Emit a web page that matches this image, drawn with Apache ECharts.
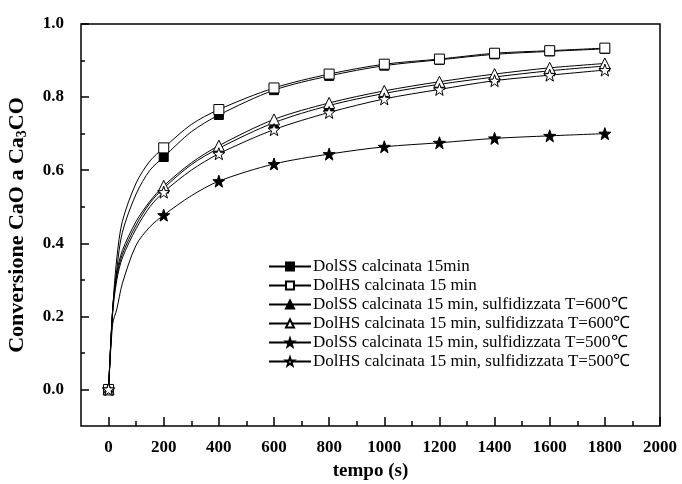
<!DOCTYPE html>
<html>
<head>
<meta charset="utf-8">
<script src="https://cdn.jsdelivr.net/npm/echarts@6/dist/echarts.min.js"></script>
<style>
html,body{margin:0;padding:0;background:#fff;}
#main{width:682px;height:484px;}
</style>
</head>
<body>
<div id="main"></div>
<script>
//tempo (s)
var tempo = [0, 15, 30, 50, 100, 150, 200, 300, 400, 600, 800, 1000, 1200, 1400, 1600, 1800];
//tempi con simbolo
var tempoMarker = [0, 200, 400, 600, 800, 1000, 1200, 1400, 1600, 1800];
//conversione
var dolSS15 = [0, 0.22, 0.33, 0.43, 0.535, 0.600, 0.636, 0.705, 0.751, 0.819, 0.858, 0.886, 0.902, 0.917, 0.925, 0.932];
var dolHS15 = [0, 0.22, 0.36, 0.46, 0.565, 0.625, 0.661, 0.725, 0.766, 0.825, 0.863, 0.890, 0.904, 0.920, 0.927, 0.934];
var dolSS600 = [0, 0.22, 0.31, 0.37, 0.450, 0.510, 0.551, 0.615, 0.660, 0.730, 0.777, 0.810, 0.835, 0.855, 0.872, 0.885];
var dolHS600 = [0, 0.22, 0.32, 0.38, 0.460, 0.515, 0.557, 0.620, 0.667, 0.739, 0.784, 0.817, 0.842, 0.863, 0.880, 0.892];
var dolSS500 = [0, 0.18, 0.22, 0.29, 0.395, 0.445, 0.477, 0.530, 0.570, 0.617, 0.644, 0.664, 0.675, 0.687, 0.694, 0.700];
var dolHS500 = [0, 0.21, 0.30, 0.36, 0.440, 0.500, 0.540, 0.600, 0.645, 0.711, 0.758, 0.795, 0.821, 0.845, 0.860, 0.874];
var nomi = ['DolSS calcinata 15min', 'DolHS calcinata 15 min',
	'DolSS calcinata 15 min, sulfidizzata T=600℃', 'DolHS calcinata 15 min, sulfidizzata T=600℃',
	'DolSS calcinata 15 min, sulfidizzata T=500℃', 'DolHS calcinata 15 min, sulfidizzata T=500℃'];
var xMajor = [0, 200, 400, 600, 800, 1000, 1200, 1400, 1600, 1800, 2000];
var xMinor = [100, 300, 500, 700, 900, 1100, 1300, 1500, 1700, 1900];
var yMajor = [0, 0.2, 0.4, 0.6, 0.8, 1.0];
var yMinor = [0.1, 0.3, 0.5, 0.7, 0.9];

var stella = 'path://M50 0 L61.76 33.82 L97.55 34.55 L69.02 56.18 L79.39 90.45 L50 70 L20.61 90.45 L30.98 56.18 L2.45 34.55 L38.24 33.82 Z';
var serif = 'Liberation Serif';

function punti(vals) {
	return tempo.map(function (t, i) {
		if (tempoMarker.indexOf(t) >= 0) return [t, vals[i]];
		return { value: [t, vals[i]], symbol: 'none' };
	});
}
function serie(nome, vals, simbolo, size, pieno) {
	return {
		name: nome,
		type: 'line',
		smooth: 0.3,
		symbol: simbolo,
		symbolSize: size,
		lineStyle: { color: '#000', width: 1 },
		itemStyle: { color: pieno ? '#000' : '#fff', borderColor: '#000', borderWidth: 1 },
		data: punti(vals)
	};
}

var chart = echarts.init(document.getElementById('main'));
var option = {
	backgroundColor: '#fff',
	animation: false,
	grid: {
		left: 81, right: 22, top: 24, bottom: 58,
		outerBoundsMode: 'none', containLabel: false,
		show: true, borderColor: '#000', borderWidth: 1.5, backgroundColor: 'transparent'
	},
	legend: {
		orient: 'vertical',
		left: 268, top: 258, padding: 0,
		itemWidth: 42, itemHeight: 10, itemGap: 2,
		textStyle: { fontFamily: serif, fontSize: 17, color: '#000', lineHeight: 17, padding: [0, 0, 0, -3] },
		data: nomi
	},
	xAxis: [{
		type: 'value', min: -100, max: 2000,
		name: 'tempo (s)', nameLocation: 'middle', nameGap: 36,
		nameTextStyle: { fontFamily: serif, fontWeight: 'bold', fontSize: 19, color: '#000' },
		axisLine: { show: false, onZero: false },
		axisTick: { inside: true, length: 9, customValues: xMajor, lineStyle: { color: '#000', width: 1.5 } },
		axisLabel: { customValues: xMajor, margin: 13, fontFamily: serif, fontWeight: 'bold', fontSize: 17, color: '#000',
			formatter: function (v) { return String(v); } },
		splitLine: { show: false }
	}, {
		type: 'value', min: -100, max: 2000, position: 'bottom',
		axisLine: { show: false, onZero: false },
		axisTick: { inside: true, length: 5, customValues: xMinor, lineStyle: { color: '#000', width: 1.5 } },
		axisLabel: { show: false },
		splitLine: { show: false }
	}],
	yAxis: [{
		type: 'value', min: -0.1, max: 1.0,
		name: 'Conversione CaO a Ca{s|3}CO', nameLocation: 'middle', nameGap: 52,
		nameTextStyle: { fontFamily: serif, fontWeight: 'bold', fontSize: 22, color: '#000',
			rich: { s: { fontFamily: serif, fontWeight: 'bold', fontSize: 14, color: '#000', padding: [10, 0, 0, 0] } } },
		axisLine: { show: false, onZero: false },
		axisTick: { inside: true, length: 8, customValues: yMajor, lineStyle: { color: '#000', width: 1.5 } },
		axisLabel: { customValues: yMajor, margin: 17, fontFamily: serif, fontWeight: 'bold', fontSize: 17, color: '#000',
			formatter: function (v) { return v.toFixed(1); } },
		splitLine: { show: false }
	}, {
		type: 'value', min: -0.1, max: 1.0, position: 'left',
		axisLine: { show: false, onZero: false },
		axisTick: { inside: true, length: 4, customValues: yMinor, lineStyle: { color: '#000', width: 1.5 } },
		axisLabel: { show: false },
		splitLine: { show: false }
	}],
	series: [
		serie(nomi[0], dolSS15, 'rect', 9, true),
		serie(nomi[1], dolHS15, 'rect', 10, false),
		serie(nomi[2], dolSS600, 'triangle', 10, true),
		serie(nomi[3], dolHS600, 'triangle', 11, false),
		serie(nomi[4], dolSS500, stella, 12, true),
		serie(nomi[5], dolHS500, stella, 12, false)
	]
};
chart.setOption(option);
</script>
</body>
</html>
